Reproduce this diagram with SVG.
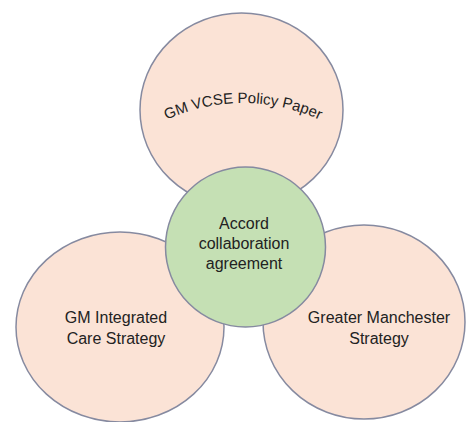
<svg xmlns="http://www.w3.org/2000/svg" width="467" height="422" viewBox="0 0 467 422">
<style>
.outer{fill:#fbe3d6;stroke:#868aa0;stroke-width:1.5}
.core{fill:#c5e0b4;stroke:#868aa0;stroke-width:1.5}
.lbl{font-family:"Liberation Sans",Arial,sans-serif;font-size:16px;fill:#222222;text-anchor:middle}
</style>
<defs>
<path id="arc" d="M 150 128.4 A 183 183 0 0 1 336 128.4"/>
</defs>
<rect width="467" height="422" fill="#ffffff"/>
<g id="policy-paper">
<ellipse class="outer" cx="241.5" cy="110" rx="101.5" ry="97"/>
<text class="lbl" style="font-size:15px"><textPath href="#arc" startOffset="50%">GM VCSE Policy Paper</textPath></text>
</g>
<g id="integrated-care">
<ellipse class="outer" cx="120" cy="327" rx="104" ry="95"/>
<text class="lbl" x="116" y="323">GM Integrated</text>
<text class="lbl" x="116" y="344">Care Strategy</text>
</g>
<g id="gm-strategy">
<ellipse class="outer" cx="364" cy="322" rx="101" ry="97"/>
<text class="lbl" x="379" y="323">Greater Manchester</text>
<text class="lbl" x="379" y="344">Strategy</text>
</g>
<g id="accord">
<circle class="core" cx="245.5" cy="247" r="80"/>
<text class="lbl" x="244" y="229">Accord</text>
<text class="lbl" x="244" y="249">collaboration</text>
<text class="lbl" x="244" y="269">agreement</text>
</g>
<g id="connectors"/>
</svg>
